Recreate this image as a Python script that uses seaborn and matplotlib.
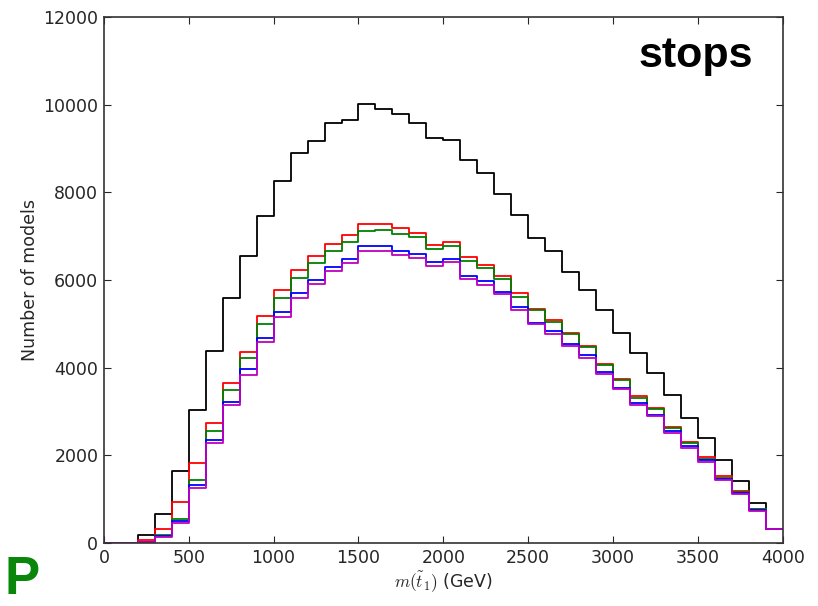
import numpy as np
import pandas as pd
import seaborn as sns
import matplotlib
matplotlib.use("Agg")
import matplotlib.pyplot as plt

# counts per 100 GeV bin, 0..4000 GeV
all_models = [0, 0, 180, 670, 1640, 3030, 4380, 5580, 6550, 7450, 8250, 8900,
              9170, 9570, 9650, 10020, 9900, 9780, 9590, 9230, 9190, 8730, 8440,
              7950, 7490, 6950, 6650, 6180, 5780, 5310, 4780, 4330, 3880, 3380,
              2860, 2400, 1900, 1410, 910, 330]
cut_red = [0, 0, 70, 310, 940, 1830, 2730, 3640, 4360, 5180, 5760, 6230, 6540,
           6830, 7020, 7270, 7270, 7190, 7080, 6800, 6870, 6530, 6340, 6100,
           5700, 5340, 5090, 4800, 4500, 4090, 3750, 3350, 3090, 2650, 2310,
           1950, 1530, 1190, 780, 330]
cut_green = [0, 0, 30, 175, 540, 1440, 2560, 3500, 4230, 5000, 5590, 6050,
             6380, 6650, 6860, 7110, 7150, 7060, 6990, 6700, 6780, 6430, 6280,
             6030, 5620, 5310, 5030, 4760, 4480, 4060, 3720, 3310, 3050, 2620,
             2290, 1920, 1490, 1160, 770, 320]
cut_blue = [0, 0, 20, 160, 490, 1320, 2360, 3220, 3960, 4680, 5280, 5710, 6000,
            6300, 6480, 6770, 6770, 6670, 6600, 6410, 6480, 6100, 5970, 5730,
            5380, 5020, 4830, 4530, 4280, 3900, 3540, 3190, 2930, 2550, 2210,
            1890, 1470, 1150, 750, 315]
cut_magenta = [0, 0, 15, 140, 460, 1260, 2290, 3140, 3830, 4590, 5150, 5590,
               5910, 6200, 6390, 6670, 6670, 6570, 6510, 6320, 6410, 6030, 5880,
               5670, 5310, 4990, 4760, 4490, 4230, 3860, 3520, 3150, 2900, 2520,
               2170, 1850, 1440, 1120, 730, 310]

series = [
    (all_models, "black"),
    (cut_red, "red"),
    (cut_green, "green"),
    (cut_blue, "blue"),
    (cut_magenta, "m"),
]

sns.set_style("ticks", {
    "xtick.direction": "in",
    "ytick.direction": "in",
    "axes.edgecolor": "#333333",
})
plt.rcParams["font.family"] = ["DejaVu Sans"]
plt.rcParams["mathtext.fontset"] = "cm"

edges = list(range(0, 4001, 100))
centers = [e + 50 for e in edges[:-1]]

fig = plt.figure(figsize=(8.18, 6.06), dpi=100)
ax = fig.add_axes([0.127, 0.104, 0.83, 0.868])

for counts, color in series:
    df = pd.DataFrame({"mass": centers, "n": counts})
    sns.histplot(data=df, x="mass", weights="n", bins=edges, element="step",
                 fill=False, color=color, linewidth=1.3, ax=ax)

ax.set_xlim(0, 4000)
ax.set_ylim(0, 12000)
ax.set_xticks(np.arange(0, 4001, 500))
ax.set_yticks(np.arange(0, 12001, 2000))
ax.tick_params(axis="both", which="both", top=True, right=True,
               length=5, width=0.8, labelsize=12.5, pad=4)
for side in ax.spines.values():
    side.set_linewidth(1.2)
ax.set_xlabel(r"$m(\tilde{t}_1)$ (GeV)", fontsize=12.5, labelpad=2)
ax.set_ylabel("Number of models", fontsize=12.5, labelpad=3)

fig.text(0.78, 0.889, "stops", fontsize=31, family="Liberation Sans",
         fontweight="bold", va="baseline", ha="left", color="black")
fig.text(0.005, 0.002, "P", fontsize=38, family="Liberation Sans",
         fontweight="bold", color="#0a860a", va="bottom", ha="left")

fig.savefig("out.png", dpi=100)
